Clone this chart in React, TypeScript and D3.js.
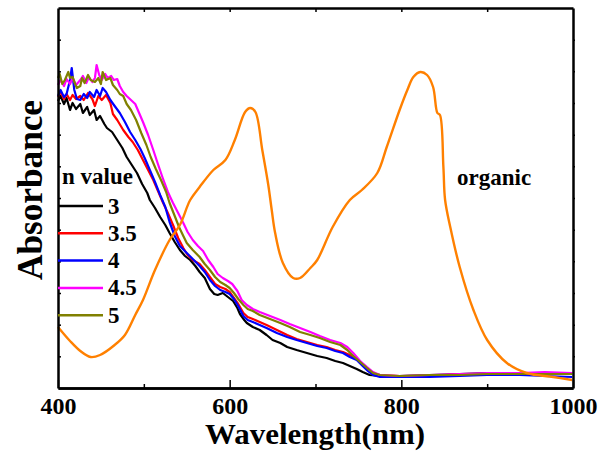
import React, { useEffect, useRef } from 'react';
import * as d3 from 'd3';

type Pt = [number, number];

// wavelength (nm), absorbance (a.u.)
const n3: Pt[] = [
  [400, 2.87], [403, 2.92], [407, 2.84], [410, 2.9], [414, 2.78], [417, 2.85], [421, 2.79], [426, 2.84],
  [429, 2.75], [434, 2.81], [437, 2.73], [442, 2.78], [445, 2.68], [449, 2.72], [454, 2.64], [457, 2.6],
  [463, 2.56], [469, 2.48], [475, 2.4], [480, 2.31], [486, 2.23], [492, 2.15], [498, 2.04], [504, 1.95],
  [507, 1.88], [513, 1.8], [519, 1.71], [525, 1.63], [530, 1.55], [536, 1.46], [542, 1.38], [548, 1.32],
  [554, 1.28], [560, 1.22], [565, 1.16], [571, 1.1], [577, 0.99], [582, 0.94], [586, 0.93], [592, 0.95],
  [598, 0.91], [604, 0.87], [609, 0.8], [612, 0.74], [617, 0.68], [620, 0.65], [627, 0.61], [635, 0.58],
  [643, 0.53], [650, 0.48], [659, 0.45], [667, 0.41], [678, 0.38], [690, 0.35], [702, 0.32], [713, 0.3],
  [723, 0.27], [732, 0.25], [740, 0.22], [748, 0.19], [755, 0.16], [763, 0.13], [775, 0.12], [798, 0.12],
  [833, 0.13], [868, 0.14], [900, 0.15], [938, 0.15], [967, 0.14], [999, 0.14],
];

const n35: Pt[] = [
  [400, 2.91], [403, 2.96], [407, 2.89], [410, 2.94], [414, 2.88], [417, 2.93], [421, 2.89], [426, 2.92],
  [430, 2.88], [435, 2.95], [440, 2.89], [443, 2.82], [447, 2.92], [451, 2.88], [456, 2.93], [461, 2.85],
  [464, 2.74], [469, 2.68], [476, 2.58], [482, 2.51], [487, 2.46], [493, 2.38], [499, 2.28], [505, 2.18],
  [511, 2.08], [516, 1.98], [522, 1.86], [528, 1.75], [534, 1.63], [540, 1.5], [546, 1.4], [551, 1.33],
  [557, 1.28], [565, 1.24], [571, 1.18], [577, 1.11], [583, 1.04], [589, 1.01], [595, 0.99], [600, 0.96],
  [605, 0.9], [610, 0.84], [616, 0.75], [621, 0.71], [627, 0.69], [635, 0.66], [643, 0.63], [655, 0.58],
  [667, 0.53], [678, 0.49], [690, 0.46], [702, 0.43], [713, 0.41], [723, 0.38], [732, 0.36], [740, 0.33],
  [748, 0.29], [755, 0.24], [761, 0.19], [767, 0.15], [775, 0.13], [798, 0.12], [833, 0.12], [868, 0.14],
  [900, 0.14], [938, 0.15], [967, 0.15], [999, 0.15],
];

const n4: Pt[] = [
  [400, 2.92], [403, 2.98], [407, 2.91], [410, 2.94], [414, 3.08], [416, 3.2], [419, 2.98], [422, 2.89],
  [426, 2.88], [430, 2.94], [434, 2.9], [437, 2.96], [442, 2.91], [445, 2.98], [449, 2.92], [452, 3.0],
  [456, 2.96], [461, 2.88], [466, 2.82], [472, 2.75], [478, 2.66], [484, 2.56], [490, 2.48], [496, 2.39],
  [501, 2.3], [507, 2.18], [513, 2.06], [519, 1.93], [525, 1.81], [530, 1.66], [536, 1.52], [542, 1.42],
  [550, 1.35], [557, 1.29], [565, 1.22], [571, 1.16], [577, 1.08], [583, 1.02], [589, 0.98], [595, 0.96],
  [600, 0.94], [605, 0.89], [610, 0.82], [616, 0.72], [621, 0.68], [627, 0.66], [635, 0.63], [643, 0.6],
  [655, 0.55], [667, 0.51], [678, 0.48], [690, 0.45], [702, 0.42], [713, 0.4], [723, 0.37], [732, 0.35],
  [740, 0.31], [748, 0.28], [755, 0.22], [761, 0.17], [767, 0.13], [775, 0.11], [798, 0.11], [833, 0.11],
  [868, 0.12], [900, 0.13], [938, 0.13], [967, 0.12], [999, 0.11],
];

const n45: Pt[] = [
  [400, 3.03], [403, 3.08], [407, 3.02], [410, 3.09], [414, 3.04], [417, 3.1], [421, 3.03], [426, 3.08],
  [429, 3.12], [433, 3.05], [436, 3.11], [440, 3.06], [443, 3.1], [445, 3.23], [448, 3.13], [451, 3.08],
  [455, 3.14], [458, 3.1], [462, 3.12], [465, 3.08], [469, 3.09], [472, 3.02], [476, 2.96], [480, 2.92],
  [485, 2.88], [490, 2.84], [494, 2.76], [499, 2.66], [505, 2.53], [511, 2.38], [516, 2.25], [522, 2.1],
  [528, 1.96], [534, 1.85], [540, 1.75], [546, 1.65], [551, 1.56], [557, 1.48], [563, 1.42], [569, 1.37],
  [575, 1.28], [581, 1.21], [586, 1.14], [592, 1.1], [598, 1.07], [603, 1.04], [609, 0.97], [614, 0.88],
  [620, 0.83], [627, 0.79], [635, 0.76], [647, 0.72], [659, 0.68], [670, 0.64], [682, 0.6], [694, 0.56],
  [705, 0.52], [717, 0.48], [729, 0.45], [737, 0.41], [744, 0.35], [752, 0.27], [760, 0.21], [767, 0.16],
  [775, 0.13], [798, 0.12], [833, 0.13], [868, 0.14], [900, 0.15], [938, 0.15], [967, 0.16], [999, 0.15],
];

const n5: Pt[] = [
  [400, 3.1], [402, 3.14], [405, 3.04], [408, 3.08], [412, 3.16], [414, 3.1], [417, 3.11], [420, 3.04],
  [422, 3.0], [426, 3.02], [428, 3.1], [431, 3.05], [435, 3.13], [438, 3.08], [443, 3.06], [447, 3.1],
  [450, 3.04], [452, 3.16], [456, 3.08], [461, 3.1], [464, 3.03], [469, 2.98], [472, 2.94], [476, 2.92],
  [480, 2.84], [485, 2.78], [491, 2.68], [497, 2.55], [503, 2.43], [508, 2.31], [514, 2.19], [520, 2.08],
  [526, 1.96], [530, 1.85], [536, 1.72], [541, 1.61], [546, 1.52], [550, 1.45], [557, 1.38], [565, 1.31],
  [571, 1.24], [577, 1.18], [583, 1.11], [589, 1.06], [595, 1.03], [600, 1.0], [605, 0.95], [610, 0.89],
  [616, 0.83], [621, 0.79], [627, 0.77], [635, 0.73], [647, 0.69], [659, 0.65], [670, 0.61], [682, 0.56],
  [694, 0.53], [705, 0.5], [717, 0.46], [729, 0.43], [737, 0.38], [744, 0.32], [752, 0.26], [760, 0.2],
  [767, 0.15], [775, 0.13], [798, 0.12], [833, 0.13], [868, 0.13], [900, 0.14], [938, 0.14], [967, 0.14],
  [999, 0.14],
];

const organic: Pt[] = [
  [400, 0.61], [414, 0.47], [426, 0.37], [438, 0.31], [449, 0.33], [466, 0.43], [478, 0.53], [490, 0.73],
  [499, 0.88], [513, 1.18], [530, 1.48], [542, 1.63], [554, 1.88], [565, 2.01], [581, 2.18], [595, 2.28],
  [606, 2.48], [618, 2.76], [624, 2.8], [630, 2.76], [638, 2.38], [645, 2.03], [649, 1.78], [653, 1.55],
  [662, 1.25], [674, 1.1], [682, 1.1], [694, 1.2], [702, 1.28], [720, 1.61], [740, 1.88], [754, 1.98],
  [772, 2.15], [783, 2.41], [798, 2.78], [807, 2.98], [814, 3.11], [822, 3.16], [830, 3.13], [837, 3.01],
  [842, 2.75], [845, 2.73], [849, 2.21], [851, 1.88], [857, 1.61], [868, 1.21], [884, 0.78], [900, 0.48],
  [923, 0.25], [946, 0.15], [977, 0.11], [999, 0.08],
];

const seriesNames = ['3', '3.5', '4', '4.5', '5'];
const seriesData = [n3, n35, n4, n45, n5];
const seriesColors = ['#000000', '#FF0000', '#0000FF', '#FF00FF', '#808000'];
const organicColor = '#FF8000';

const xMajor = [400, 600, 800, 1000];
const xMinor = [500, 700, 900];

const FONT = '"Liberation Serif", "Times New Roman", serif';

export default function App() {
  const ref = useRef<SVGSVGElement>(null);

  useEffect(() => {
    const svg = d3.select(ref.current);
    svg.selectAll('*').remove();

    const left = 58, right = 573, top = 8, bottom = 388;

    const x = d3.scaleLinear().domain([400, 1000]).range([left, right]);
    const y = d3.scaleLinear().domain([0, 3.8]).range([bottom, top]);
    const yTicks = d3.range(1, 12).map(i => (i * 3.8) / 12);

    const line = d3.line<Pt>().x(d => x(d[0])).y(d => y(d[1]));
    const smooth = d3.line<Pt>().x(d => x(d[0])).y(d => y(d[1])).curve(d3.curveCatmullRom.alpha(0.5));

    // data
    seriesData.forEach((data, i) => {
      svg.append('path')
        .attr('d', line(data) || '')
        .attr('fill', 'none')
        .attr('stroke', seriesColors[i])
        .attr('stroke-width', 2.2)
        .attr('stroke-linejoin', 'round');
    });
    svg.append('path')
      .attr('d', smooth(organic) || '')
      .attr('fill', 'none')
      .attr('stroke', organicColor)
      .attr('stroke-width', 2.4)
      .attr('stroke-linejoin', 'round');

    // axes
    const styleAxis = (g: any) => {
      g.select('.domain').attr('stroke', '#000').attr('stroke-width', 2.5);
      g.selectAll('.tick line').attr('stroke', '#000').attr('stroke-width', 1.5);
    };

    svg.append('g')
      .attr('transform', `translate(0,${bottom})`)
      .call(d3.axisBottom(x).tickValues(xMajor).tickSizeInner(-8).tickSizeOuter(0).tickPadding(9).tickFormat(d3.format('d')))
      .call(styleAxis)
      .selectAll('text')
      .attr('font-family', FONT)
      .attr('font-weight', 'bold')
      .attr('font-size', 24)
      .attr('fill', '#000');

    svg.append('g')
      .attr('transform', `translate(0,${bottom})`)
      .call(d3.axisBottom(x).tickValues(xMinor).tickSizeInner(-4).tickSizeOuter(0).tickFormat(() => ''))
      .call(styleAxis);

    svg.append('g')
      .attr('transform', `translate(0,${top})`)
      .call(d3.axisTop(x).tickValues([...xMinor, 600, 800]).tickSizeInner(-4).tickSizeOuter(0).tickFormat(() => ''))
      .call(styleAxis);

    svg.append('g')
      .attr('transform', `translate(${left},0)`)
      .call(d3.axisLeft(y).tickValues(yTicks).tickSizeInner(-3).tickSizeOuter(0).tickFormat(() => ''))
      .call(styleAxis);

    svg.append('g')
      .attr('transform', `translate(${right},0)`)
      .call(d3.axisRight(y).tickValues(yTicks).tickSizeInner(2).tickSizeOuter(0).tickFormat(() => ''))
      .call(styleAxis);

    // axis titles
    svg.append('text')
      .attr('x', 315)
      .attr('y', 444)
      .attr('text-anchor', 'middle')
      .attr('font-family', FONT)
      .attr('font-weight', 'bold')
      .attr('font-size', 30)
      .attr('textLength', 220)
      .attr('lengthAdjust', 'spacingAndGlyphs')
      .text('Wavelength(nm)');

    svg.append('text')
      .attr('transform', 'translate(42,190) rotate(-90)')
      .attr('text-anchor', 'middle')
      .attr('font-family', FONT)
      .attr('font-weight', 'bold')
      .attr('font-size', 36)
      .attr('textLength', 180)
      .attr('lengthAdjust', 'spacingAndGlyphs')
      .text('Absorbance');

    // legend
    svg.append('text')
      .attr('x', 62)
      .attr('y', 184)
      .attr('font-family', FONT)
      .attr('font-weight', 'bold')
      .attr('font-size', 23)
      .text('n value');

    const legend = svg.append('g');
    seriesNames.forEach((name, i) => {
      const ly = 206 + i * 27.3;
      legend.append('line')
        .attr('x1', 58).attr('x2', 103)
        .attr('y1', ly).attr('y2', ly)
        .attr('stroke', seriesColors[i])
        .attr('stroke-width', 2.5);
      legend.append('text')
        .attr('x', 108)
        .attr('y', ly + 7.5)
        .attr('font-family', FONT)
        .attr('font-weight', 'bold')
        .attr('font-size', 23)
        .text(name);
    });

    svg.append('text')
      .attr('x', 457)
      .attr('y', 185)
      .attr('font-family', FONT)
      .attr('font-weight', 'bold')
      .attr('font-size', 23)
      .text('organic');
  }, []);

  return (
    <svg
      ref={ref}
      width={599}
      height={459}
      style={{ position: 'absolute', left: 0, top: 0, background: '#fff' }}
    />
  );
}
